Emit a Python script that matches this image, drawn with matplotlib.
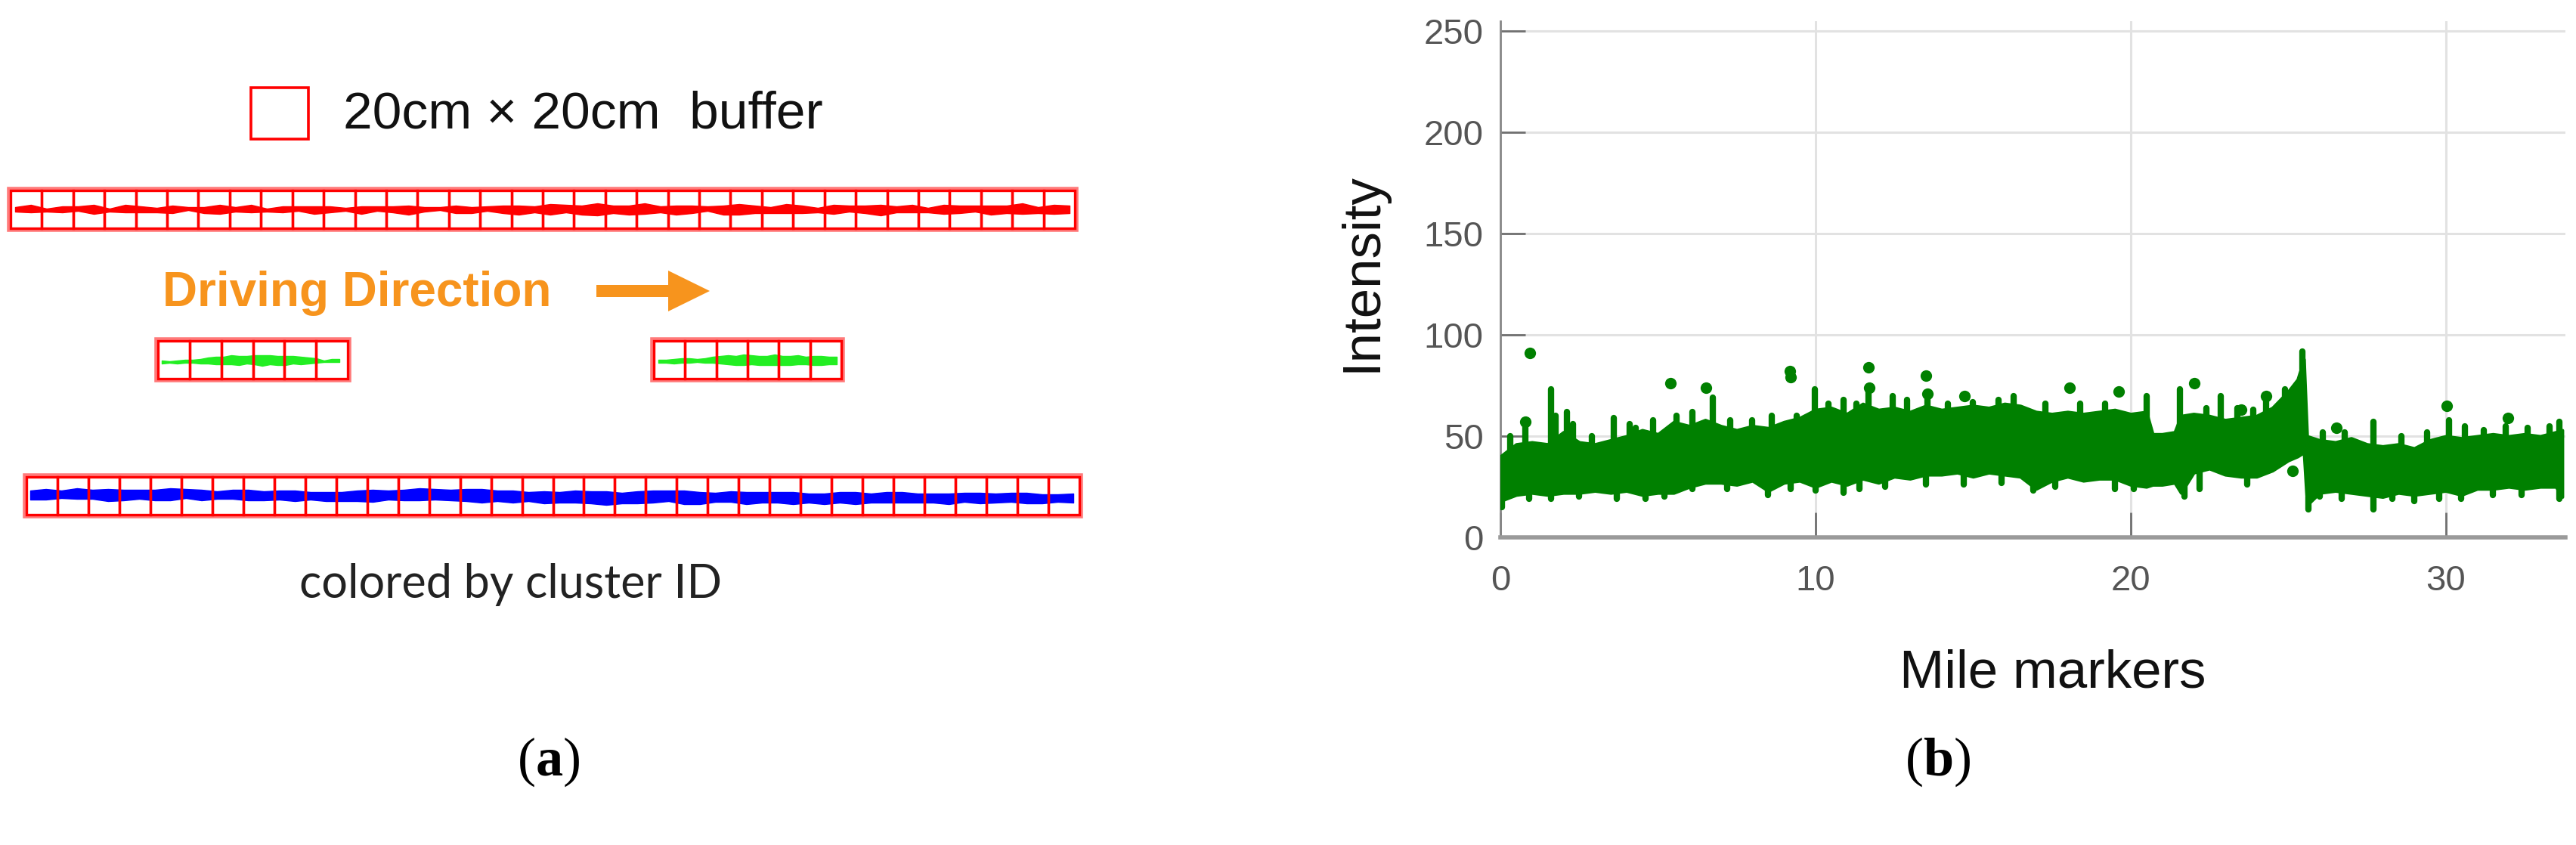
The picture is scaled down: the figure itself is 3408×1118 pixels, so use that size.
import numpy as np
import matplotlib
matplotlib.use('Agg')
import matplotlib.pyplot as plt
from matplotlib.patches import Rectangle, FancyArrow

plt.rcParams['font.family'] = ['Liberation Sans', 'DejaVu Sans']
plt.rcParams['mathtext.fontset'] = 'custom'
plt.rcParams['mathtext.rm'] = 'Liberation Serif'
plt.rcParams['mathtext.bf'] = 'Liberation Serif:bold'

W, H = 3408, 1118

# ---- panel (a): buffers and cluster traces ----
n_top = 34
n_green = 6
n_bottom = 34
# trace half-thickness / centre offset along each row (px)
red_half = [3, 5, 2, 4, 3, 6, 2, 5, 4, 3, 5, 2, 4, 6, 3, 5, 2, 4, 3, 5, 4, 2, 5,
            3, 4, 6, 3, 2, 5, 4, 3, 5, 6, 4, 7, 5, 6, 8, 5, 6, 7, 4, 6, 5, 3, 6,
            7, 5, 4, 6, 5, 3, 6, 4, 5, 7, 4, 5, 3, 6, 5, 4, 6, 5, 7, 4, 6, 5]
red_off = [0, -1, 1, 0, -1, 0, 1, -1, 0, 1, 0, -1, 1, 0, 0, -1, 1, 0, -1, 1, 0,
           0, 1, -1, 0, 1, 0, -1, 0, 1, -1, 0, 1, 0, 0, -1, 1, 0, 0, 1, -1, 0,
           1, 0, -1, 1, 0, 0, 1, -1, 0, 1, 0, -1, 0, 1, 0, -1, 1, 0, 0, -1, 1,
           0, -1, 1, 0, 0]
blue_half = [6, 7, 5, 7, 6, 8, 7, 6, 7, 8, 6, 7, 5, 6, 7, 6, 6, 7, 5, 6, 6, 7, 8,
             6, 7, 8, 7, 7, 8, 9, 7, 8, 6, 8, 7, 8, 8, 9, 7, 8, 8, 7, 9, 8, 6, 7,
             8, 7, 7, 8, 6, 7, 7, 8, 6, 7, 7, 6, 6, 7, 6, 7, 6, 6, 7, 6, 5, 6]
blue_off = [-1, -2, -2, -3, -2, -1, -1, -2, -1, -2, -3, -1, -1, -2, -1, 0, -1, 0,
            0, 1, 1, 0, 0, -1, -1, -2, -2, -1, -1, 0, 0, 1, 1, 2, 2, 1, 2, 3, 3,
            2, 1, 0, 2, 3, 2, 1, 3, 2, 2, 3, 3, 4, 2, 3, 3, 2, 2, 3, 3, 4, 2, 3,
            3, 2, 3, 4, 3, 3]
green1_half = [2, 1, 2, 2, 2, 3, 4, 5, 5, 6, 6, 5, 6, 7, 6, 6, 6, 5, 5, 4, 3, 1, 2, 2]
green1_off = [2, 2, 2, 1, 1, 1, 0, 0, 0, -1, 0, -1, -1, 0, -1, 0, 0, -1, 0, 0, 0, 1, 0, 0]
green2_half = [2, 2, 3, 3, 3, 2, 3, 4, 5, 6, 6, 7, 6, 6, 6, 7, 6, 6, 6, 5, 6, 6, 5, 5]
green2_off = [1, 1, 1, 0, 0, 0, 0, -1, -1, -1, 0, -1, -1, 0, 0, -1, 0, 0, -1, 0, 0, 0, 0, 0]

# ---- panel (b): intensity along the route ----
band_x = [0.0, 0.5, 1.0, 1.5, 2.0, 2.5, 3.0, 3.5, 4.0, 4.5, 5.0, 5.5, 6.0, 6.5,
          7.0, 7.5, 8.0, 8.5, 9.0, 9.5, 10.0, 10.5, 11.0, 11.5, 12.0, 12.5,
          13.0, 13.5, 14.0, 14.5, 15.0, 15.5, 16.0, 16.5, 17.0, 17.5, 18.0,
          18.5, 19.0, 19.5, 20.0, 20.5, 20.7, 21.0, 21.4, 21.6, 22.0, 22.5,
          23.0, 23.5, 24.0, 24.5, 25.0, 25.3, 25.5, 25.6, 26.0, 26.5, 27.0,
          27.5, 28.0, 28.5, 29.0, 29.5, 30.0, 30.5, 31.0, 31.5, 32.0, 32.5,
          33.0, 33.5, 33.7]
band_hi = [40, 46, 47, 46, 52, 47, 46, 48, 50, 53, 51, 57, 55, 58,
           55, 53, 55, 54, 57, 59, 63, 64, 61, 66, 63, 64,
           62, 65, 63, 64, 65, 64, 66, 65, 62, 61, 62,
           61, 62, 63, 61, 62, 51, 51, 52, 60, 61, 60,
           58, 59, 60, 64, 72, 78, 88, 50, 48, 47, 49,
           46, 45, 46, 44, 48, 50, 49, 50, 51, 50, 51,
           50, 52, 53]
band_lo = [18, 21, 22, 21, 22, 22, 23, 22, 23, 21, 22, 22, 25, 27,
           27, 26, 28, 23, 27, 28, 25, 28, 26, 29, 27, 30,
           29, 31, 31, 32, 30, 32, 31, 30, 24, 28, 30,
           28, 29, 29, 26, 25, 26, 26, 27, 22, 32, 34,
           31, 30, 30, 33, 38, 40, 42, 16, 22, 23, 22,
           21, 20, 22, 21, 22, 23, 21, 24, 24, 25, 24,
           25, 25, 20]
up_x = [0.3, 0.8, 1.6, 1.75, 2.1, 2.3, 2.9, 3.6, 4.1, 4.3, 4.85, 5.6, 6.1,
        6.75, 7.3, 8.0, 8.6, 9.4, 9.98, 10.4, 10.9, 11.3, 11.68, 12.45,
        12.9, 13.55, 14.2, 15.0, 15.8, 16.3, 17.3, 18.4, 19.2, 20.5, 21.57,
        22.4, 22.85, 23.4, 23.9, 24.3, 24.9, 25.46, 26.1, 26.8, 27.7, 28.6,
        29.4, 30.1, 30.6, 31.2, 31.9, 32.6, 33.3, 33.6]
up_top = [50, 57, 73, 60, 62, 56, 50, 59, 56, 54, 58, 60, 62,
          69, 58, 58, 60, 60, 73, 66, 68, 66, 73, 70,
          68, 70, 66, 67, 68, 70, 66, 66, 66, 70, 73,
          64, 70, 64, 63, 70, 73, 92, 52, 52, 57, 50,
          52, 58, 55, 53, 55, 54, 55, 57]
down_x = [0.05, 0.9, 1.6, 2.5, 3.7, 4.6, 5.2, 6.1, 7.2, 8.5, 9.2, 10.0, 10.9,
          11.4, 12.2, 13.5, 14.7, 15.9, 16.9, 17.6, 19.5, 20.1, 21.7, 22.2,
          23.7, 25.65, 26.0, 26.7, 27.7, 28.3, 29.0, 29.8, 30.5, 31.5, 32.4,
          33.6]
down_bot = [15, 19, 19, 20, 19, 19, 20, 24, 24, 21, 24, 23, 22,
            24, 25, 26, 26, 27, 23, 25, 24, 24, 20, 24,
            26, 14, 20, 19, 14, 19, 18, 19, 19, 21, 21,
            19]
out_x = [0.93, 0.8, 5.4, 6.53, 9.19, 9.2, 11.68, 11.7, 13.5, 13.55, 14.74,
         18.06, 19.62, 22.01, 24.29, 26.52, 30.03, 31.97, 25.13, 23.5]
out_y = [91, 57, 76, 74, 82, 79, 84, 74, 80, 71, 70,
         74, 72, 76, 70, 54, 65, 59, 33, 63]

green = '#008000'
orange = '#F7941D'

fig = plt.figure(figsize=(W / 100, H / 100), dpi=100)

# full-figure canvas in pixel units for panel (a) and captions
ax_a = fig.add_axes([0, 0, 1, 1])
ax_a.set_xlim(0, W)
ax_a.set_ylim(H, 0)
ax_a.axis('off')


def trace(x0, x1, cy, offs, half, color):
    xs = np.linspace(x0, x1, len(half))
    c = cy + np.array(offs)
    h = np.array(half)
    ax_a.fill_between(xs, c - h, c + h, color=color, lw=1, zorder=2)


def boxes(x0, x1, y0, y1, n):
    bw = (x1 - x0) / n
    ax_a.add_patch(Rectangle((x0 - 2, y0 - 2), x1 - x0 + 4, y1 - y0 + 4, fill=False,
                             ec='#ff7a7a', lw=4, zorder=3))
    for i in range(n):
        ax_a.add_patch(Rectangle((x0 + i * bw, y0), bw, y1 - y0, fill=False,
                                 ec='#ff0000', lw=2.4, zorder=4))


# legend
ax_a.add_patch(Rectangle((332, 116), 76, 68, fill=False, ec='#ff0000', lw=2.6))
ax_a.text(454, 170, '20cm \u00d7 20cm  buffer', fontsize=50, color='#111111',
          ha='left', va='baseline')

trace(20, 1415, 277, red_off, red_half, '#ff0000')
boxes(14, 1422, 252, 302, n_top)

ax_a.text(215, 405, 'Driving Direction', fontsize=46, fontweight='bold',
          color=orange, ha='left', va='baseline')
ax_a.add_patch(FancyArrow(789, 385, 150, 0, width=16, head_width=54,
                          head_length=55, length_includes_head=True,
                          color=orange, lw=0))

trace(214, 449, 477, green1_off, green1_half, '#22ee22')
boxes(209, 460, 451, 501, n_green)
trace(871, 1107, 477, green2_off, green2_half, '#22ee22')
boxes(865, 1113, 451, 501, n_green)

trace(40, 1420, 656, blue_off, blue_half, '#0000ff')
boxes(35, 1428, 631, 681, n_bottom)

ax_a.text(676, 791, 'colored by cluster ID', fontsize=44, family='Lato',
          color='#222222', ha='center', va='baseline')

ax_a.text(726, 1008, r'$(\mathbf{a})$', fontsize=52, ha='center', va='center')
ax_a.text(2564, 1008, r'$(\mathbf{b})$', fontsize=52, ha='center', va='center')

# panel (b)
x_left, x_right, y_top, y_bot = 1985, 3394, 28, 711
ax = fig.add_axes([x_left / W, 1 - y_bot / H, (x_right - x_left) / W, (y_bot - y_top) / H])
ax.fill_between(band_x, band_lo, band_hi, facecolor=green, edgecolor=green,
                lw=3, zorder=3)
up_base = np.interp(up_x, band_x, band_hi) - 3
lc = ax.vlines(up_x, up_base, up_top, color=green, lw=6, zorder=3)
lc.set_capstyle('round')
down_base = np.interp(down_x, band_x, band_lo) + 3
lc2 = ax.vlines(down_x, down_bot, down_base, color=green, lw=6, zorder=3)
lc2.set_capstyle('round')
ax.plot(out_x, out_y, 'o', color=green, ms=11, mec='none', zorder=3)

ax.set_xlim(0, 33.8)
ax.set_ylim(0, 255)
ax.set_xticks([0, 10, 20, 30])
ax.set_yticks([0, 50, 100, 150, 200, 250])
ax.grid(True, color='#e2e2e2', lw=2.2)
ax.set_axisbelow(True)
ax.tick_params(direction='in', length=24, width=2, color='#707070',
               labelsize=34, labelcolor='#555555')
ax.tick_params(axis='y', pad=16)
ax.tick_params(axis='x', pad=26)
for s in ['top', 'right']:
    ax.spines[s].set_visible(False)
ax.spines['left'].set_color('#888888')
ax.spines['left'].set_linewidth(2)
ax.spines['bottom'].set_color('#9a9a9a')
ax.spines['bottom'].set_linewidth(4)
ax.set_facecolor('none')

ax.set_ylabel('Intensity', fontsize=51, color='#111111')
ax.yaxis.set_label_coords(1835 / W, 1 - 360 / H, transform=fig.transFigure)
ax.set_xlabel('Mile markers', fontsize=51, color='#111111')
ax.xaxis.set_label_coords(2716 / W, 1 - 858 / H, transform=fig.transFigure)

fig.savefig('out.png', dpi=100)
